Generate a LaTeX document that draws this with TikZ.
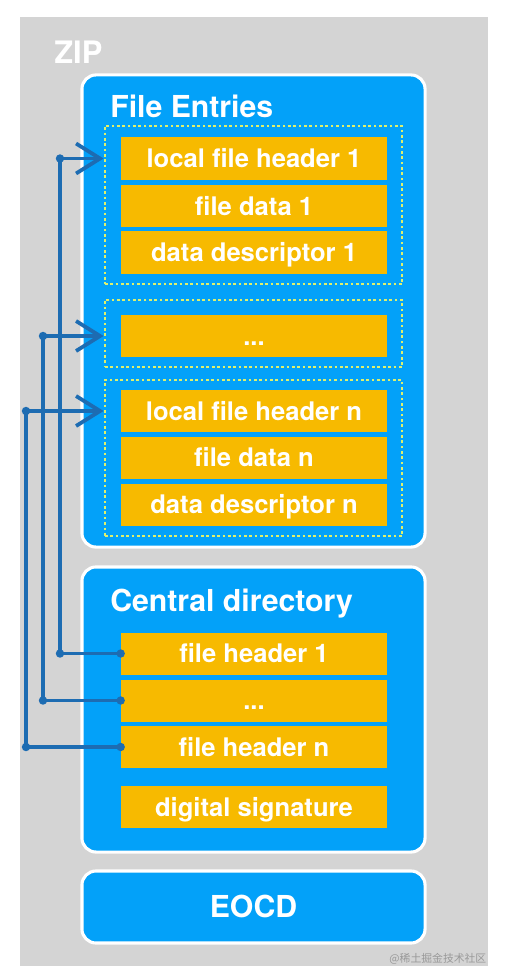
\documentclass[tikz,border=0pt]{standalone}
\usepackage{fontspec}
\setsansfont{TeX Gyre Heros}
\newfontfamily\cjkfont{Noto Sans CJK SC}
\usepackage{tikz}
\usetikzlibrary{positioning,arrows.meta}
\definecolor{zipG}{HTML}{D4D4D4}
\definecolor{zipB}{HTML}{03A1F9}
\definecolor{zipY}{HTML}{F7BA00}
\definecolor{zipD}{HTML}{DDF06E}
\definecolor{zipL}{HTML}{1D6CB2}

\begin{document}
\begin{tikzpicture}[x=0.025cm, y=-0.025cm,
  every node/.style={font=\sffamily\bfseries, text=white},
  part/.style={rectangle, rounded corners=0.35cm, draw=white, line width=2.2pt, fill=zipB,
               minimum width=8.575cm, inner sep=0pt},
  group/.style={rectangle, draw=zipD, line width=1.9pt, dash pattern=on 1.9pt off 1.9pt,
               minimum width=7.425cm, inner sep=0pt},
  field/.style={rectangle, fill=zipY, minimum width=6.65cm, minimum height=1.05cm, inner sep=0pt,
               text height=13.1pt, text depth=0pt, font=\sffamily\bfseries\fontsize{18.2}{22}\selectfont},
  ttl/.style={anchor=base west, inner sep=0pt, font=\sffamily\bfseries\fontsize{21.5}{25}\selectfont},
  link/.style={zipL, line width=2.7pt, line cap=round, line join=round},
  tip/.style={-{Straight Barb[length=0.6cm, width=0.75cm]}}
]
  \useasboundingbox (0,0) rectangle (506,980);
  \fill[zipG] (20,17) rectangle (488,966);
  \node[ttl, font=\sffamily\bfseries\fontsize{22}{26}\selectfont] (zip) at (54,63) {ZIP};
  % ---- file entries ----
  \node[part, minimum height=11.8cm] (entries) at (253.5,311) {};
  \node[ttl] (entriesT) at (110,117) {File Entries};
  \node[group, minimum height=3.95cm]  (grp1) at (253.5,205) {};
  \node[group, minimum height=1.675cm] (grp2) at (253.5,333.5) {};
  \node[group, minimum height=3.9cm]   (grp3) at (253.5,458) {};
  \node[field] (lfh1)  at (254,158.5) {local file header 1};
  \node[field] (data1) at (254,206)   {file data 1};
  \node[field] (desc1) at (254,252.5) {data descriptor 1};
  \node[field] (dots1) at (254,336)   {...};
  \node[field] (lfhn)  at (254,411)   {local file header n};
  \node[field] (datan) at (254,457.5) {file data n};
  \node[field] (descn) at (254,504.5) {data descriptor n};
  % ---- central directory ----
  \node[part, minimum height=7.125cm] (central) at (253.5,709.5) {};
  \node[ttl] (centralT) at (110,611) {Central directory};
  \node[field] (fh1)  at (254,653.5) {file header 1};
  \node[field] (dots2) at (254,700.5) {...};
  \node[field] (fhn)  at (254,747)   {file header n};
  \node[field] (sig)  at (254,807)   {digital signature};
  % ---- end of central directory ----
  \node[part, minimum height=1.8cm, font=\sffamily\bfseries\fontsize{21.5}{25}\selectfont,
        text height=15.5pt, text depth=0pt] (eocd) at (253.5,907) {EOCD};
  \node[font=\cjkfont\fontsize{7.7}{9}\selectfont, text=black!40, anchor=south east, inner sep=1pt]
        (mark) at (488,966) {@稀土掘金技术社区};
  % ---- links from central directory back to entries ----
  \coordinate (lane1) at (60,0);
  \coordinate (lane2) at (43,0);
  \coordinate (lane3) at (26,0);
  \draw[link, tip] (fh1.west) -- (fh1.west -| lane1) |- (grp1.west |- lfh1);
  \draw[link, tip] (dots2.west) -- (dots2.west -| lane2) |- (grp2.west |- dots1);
  \draw[link, tip] (fhn.west) -- (fhn.west -| lane3) |- (grp3.west |- lfhn);
  \foreach \a/\l/\b in {fh1/lane1/lfh1, dots2/lane2/dots1, fhn/lane3/lfhn} {
     \fill[zipL] (\a.west) circle (3pt);
     \fill[zipL] (\a.west -| \l) circle (3pt);
     \fill[zipL] (\l |- \b) circle (3pt);
  }
\end{tikzpicture}
\end{document}
